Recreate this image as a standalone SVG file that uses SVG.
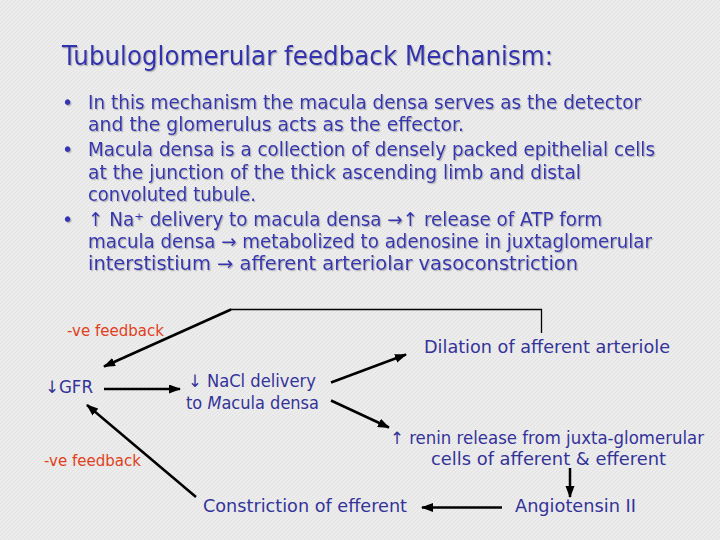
<svg xmlns="http://www.w3.org/2000/svg" width="720" height="540" viewBox="0 0 720 540">
<defs>
<pattern id="bg" width="4" height="4" patternUnits="userSpaceOnUse">
<rect width="4" height="4" fill="#ececec"/>
<path d="M0,4 L4,0" stroke="#dedede" stroke-width="0.8"/>
</pattern>
<filter id="sh" x="-5%" y="-20%" width="110%" height="150%">
<feDropShadow dx="1.2" dy="1.2" stdDeviation="0.4" flood-color="#9a9a9a" flood-opacity="0.7"/>
</filter>
<marker id="ah" markerUnits="userSpaceOnUse" markerWidth="12" markerHeight="10" refX="11" refY="4.5" orient="auto">
<path d="M0,0 L12,4.5 L0,9 z" fill="#000"/>
</marker>
</defs>
<style>
.title{font-family:"DejaVu Sans","Liberation Sans",sans-serif;font-size:26px;fill:#3030b0}
.bul{font-family:"DejaVu Sans","Liberation Sans",sans-serif;font-size:19px;fill:#3636b2}
.lab{font-family:"DejaVu Sans","Liberation Sans",sans-serif;font-size:17px;fill:#333399}
.neg{font-family:"DejaVu Sans","Liberation Sans",sans-serif;font-size:16.5px;fill:#e0401c}
.c{stroke:#000;stroke-width:2.5;fill:none}
.t{stroke:#000;stroke-width:1.3;fill:none}
</style>
<rect width="720" height="540" fill="url(#bg)"/>

<g id="title" filter="url(#sh)">
<text class="title" x="62" y="65" textLength="491" lengthAdjust="spacingAndGlyphs">Tubuloglomerular feedback Mechanism:</text>
</g>

<g id="bullets" filter="url(#sh)">
<text class="bul" x="62" y="109">•</text>
<text class="bul" x="88" y="109" textLength="553" lengthAdjust="spacingAndGlyphs">In this mechanism the macula densa serves as the detector</text>
<text class="bul" x="88" y="131" textLength="376" lengthAdjust="spacingAndGlyphs">and the glomerulus acts as the effector.</text>
<text class="bul" x="62" y="156">•</text>
<text class="bul" x="88" y="156" textLength="567" lengthAdjust="spacingAndGlyphs">Macula densa is a collection of densely packed epithelial cells</text>
<text class="bul" x="88" y="179" textLength="493" lengthAdjust="spacingAndGlyphs">at the junction of the thick ascending limb and distal</text>
<text class="bul" x="88" y="201" textLength="168" lengthAdjust="spacingAndGlyphs">convoluted tubule.</text>
<text class="bul" x="62" y="226">•</text>
<text class="bul" x="88" y="226" textLength="514" lengthAdjust="spacingAndGlyphs">↑ Na⁺ delivery to macula densa →↑ release of ATP form</text>
<text class="bul" x="88" y="248" textLength="564" lengthAdjust="spacingAndGlyphs">macula densa → metabolized to adenosine in juxtaglomerular</text>
<text class="bul" x="88" y="270" textLength="490" lengthAdjust="spacingAndGlyphs">interstistium → afferent arteriolar vasoconstriction</text>
</g>

<g id="connectors">
<polyline class="t" points="541.5,333 541.5,309.5 230,309.5"/>
<line class="c" x1="231" y1="309.5" x2="104" y2="366.5" marker-end="url(#ah)"/>
<line class="c" x1="104" y1="389" x2="180" y2="389" marker-end="url(#ah)"/>
<line class="c" x1="331" y1="382.5" x2="406" y2="354.5" marker-end="url(#ah)"/>
<line class="c" x1="331" y1="400.5" x2="389" y2="427.5" marker-end="url(#ah)"/>
<line class="c" x1="570" y1="468" x2="570" y2="497" marker-end="url(#ah)"/>
<line class="c" x1="502" y1="507.5" x2="422" y2="507.5" marker-end="url(#ah)"/>
<line class="c" x1="196" y1="497" x2="87" y2="405" marker-end="url(#ah)"/>
</g>

<g id="neg-feedback-top"><text class="neg" x="67" y="336" textLength="97" lengthAdjust="spacingAndGlyphs">-ve feedback</text></g>
<g id="neg-feedback-bottom"><text class="neg" x="44" y="466" textLength="97" lengthAdjust="spacingAndGlyphs">-ve feedback</text></g>
<g id="gfr"><text class="lab" x="45" y="393" textLength="48" lengthAdjust="spacingAndGlyphs">↓GFR</text></g>
<g id="nacl">
<text class="lab" x="188" y="387" textLength="128" lengthAdjust="spacingAndGlyphs">↓ NaCl delivery</text>
<text class="lab" x="186" y="409" textLength="133" lengthAdjust="spacingAndGlyphs">to <tspan font-style="italic">M</tspan>acula densa</text>
</g>
<g id="dilation"><text class="lab" x="424" y="353" textLength="246" lengthAdjust="spacingAndGlyphs">Dilation of afferent arteriole</text></g>
<g id="renin">
<text class="lab" x="390" y="444" textLength="314" lengthAdjust="spacingAndGlyphs">↑ renin release from juxta-glomerular</text>
<text class="lab" x="431" y="465" textLength="235" lengthAdjust="spacingAndGlyphs">cells of afferent &amp; efferent</text>
</g>
<g id="angiotensin"><text class="lab" x="515" y="512" textLength="121" lengthAdjust="spacingAndGlyphs">Angiotensin II</text></g>
<g id="constriction"><text class="lab" x="203" y="512" textLength="204" lengthAdjust="spacingAndGlyphs">Constriction of efferent</text></g>
</svg>
